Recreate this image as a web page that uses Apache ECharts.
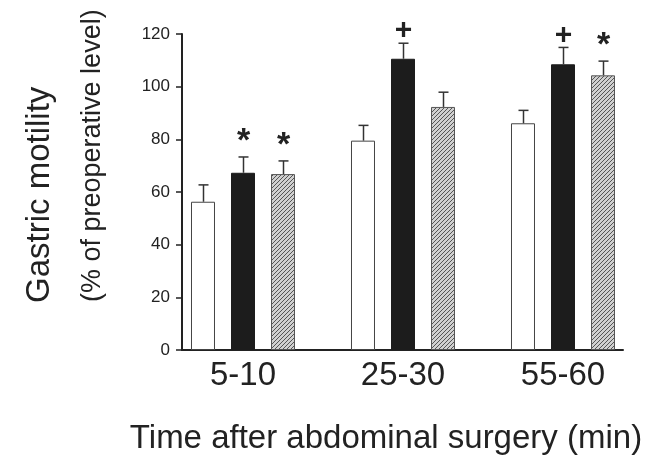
<!DOCTYPE html>
<html><head><meta charset="utf-8">
<script src="https://cdn.jsdelivr.net/npm/echarts@6/dist/echarts.min.js"></script>
<style>html,body{margin:0;padding:0;background:#fff}#c{width:651px;height:458px}</style>
</head><body><div id="c"></div>
<script>
// ---- data ----
const categories = ['5-10', '25-30', '55-60'];
const controlValues = [56.3, 79.5, 86.1];
const controlErrors = [6.4, 5.8, 4.9];
const blackValues = [67.3, 110.6, 108.5];
const blackErrors = [6.0, 5.9, 6.4];
const hatchedValues = [66.8, 92.3, 104.3];
const hatchedErrors = [5.0, 5.6, 5.4];
const controlMarks = ['', '', ''];
const blackMarks = ['*', '+', '+'];
const hatchedMarks = ['*', '', '*'];
const yMin = 0, yMax = 120, yStep = 20;
const xTitle = 'Time after abdominal surgery (min)';
const yTitle1 = 'Gastric motility';
const yTitle2 = '(% of preoperative level)';

// ---- styles ----
const FONT = '"Liberation Sans", Arial, Helvetica, sans-serif';
const INK = '#222222';
const MARK_STYLE = {'*': {size: 34, dy: 2}, '+': {size: 30, dy: 3}};

const pc = document.createElement('canvas');
pc.width = 4; pc.height = 4;
const ctx = pc.getContext('2d');
ctx.fillStyle = '#d0d0d0'; ctx.fillRect(0, 0, 4, 4);
ctx.strokeStyle = '#555555'; ctx.lineWidth = 1;
ctx.beginPath();
ctx.moveTo(0, 4); ctx.lineTo(4, 0);
ctx.moveTo(-1, 1); ctx.lineTo(1, -1);
ctx.moveTo(3, 5); ctx.lineTo(5, 3);
ctx.stroke();

const chart = echarts.init(document.getElementById('c'), null, {renderer: 'canvas'});

function barSeries(values, color, border) {
  return {
    type: 'bar', xAxisIndex: 0, yAxisIndex: 0,
    data: values, barWidth: 24, barGap: '66.67%',
    itemStyle: {color: color, borderColor: border, borderWidth: 1},
    silent: true, z: 3
  };
}
function errSeries(values, errors, marks, offset) {
  return {
    type: 'custom', xAxisIndex: 0, yAxisIndex: 0, z: 5, silent: true,
    data: values.map((v, i) => [i, v, v + errors[i]]),
    renderItem: function (params, api) {
      const i = api.value(0);
      const base = api.coord([i, api.value(1)]);
      const top = api.coord([i, api.value(2)]);
      const x = Math.round(base[0] + offset) + 0.5;
      const children = [
        {type: 'line', shape: {x1: x, y1: base[1], x2: x, y2: top[1]}, style: {stroke: '#333', lineWidth: 1.5}},
        {type: 'line', shape: {x1: x - 5, y1: top[1], x2: x + 5, y2: top[1]}, style: {stroke: '#333', lineWidth: 1.5}}
      ];
      const m = marks[params.dataIndex];
      if (m) {
        const ms = MARK_STYLE[m];
        children.push({type: 'text', x: x, y: top[1] + ms.dy,
          style: {text: m, font: 'bold ' + ms.size + 'px ' + FONT, fill: INK, textAlign: 'center', textVerticalAlign: 'bottom'}});
      }
      return {type: 'group', children: children};
    }
  };
}

chart.setOption({
  animation: false,
  backgroundColor: '#fff',
  grid: [
    {left: 163, width: 480, top: 34, bottom: 108},
    {left: 182, right: 28, top: 34, bottom: 108}
  ],
  xAxis: [
    {type: 'category', gridIndex: 0, data: categories,
     axisLine: {show: false}, axisTick: {show: false},
     axisLabel: {fontSize: 33, color: INK, fontFamily: FONT, margin: 9}},
    {type: 'category', gridIndex: 1, data: categories,
     axisLine: {show: true, lineStyle: {color: INK, width: 2}},
     axisTick: {show: false}, axisLabel: {show: false}}
  ],
  yAxis: [
    {type: 'value', gridIndex: 0, min: yMin, max: yMax, interval: yStep, show: false},
    {type: 'value', gridIndex: 1, min: yMin, max: yMax, interval: yStep,
     axisLine: {show: true, lineStyle: {color: INK, width: 2}},
     axisTick: {show: true, inside: false, length: 6, lineStyle: {color: INK, width: 1.5}},
     axisLabel: {fontSize: 17, color: INK, fontFamily: FONT, margin: 12},
     splitLine: {show: false}}
  ],
  series: [
    barSeries(controlValues, '#ffffff', '#444'),
    barSeries(blackValues, '#1c1c1c', '#1c1c1c'),
    barSeries(hatchedValues, {image: pc, repeat: 'repeat'}, '#555'),
    errSeries(controlValues, controlErrors, controlMarks, -40),
    errSeries(blackValues, blackErrors, blackMarks, 0),
    errSeries(hatchedValues, hatchedErrors, hatchedMarks, 40)
  ],
  graphic: [
    {type: 'text', x: 386, y: 439, style: {text: xTitle, font: '33px ' + FONT, fill: INK, textAlign: 'center', textVerticalAlign: 'middle'}},
    {type: 'text', x: 40, y: 303, rotation: Math.PI / 2, style: {text: yTitle1, font: '33px ' + FONT, fill: INK, textAlign: 'left', textVerticalAlign: 'middle'}},
    {type: 'text', x: 93, y: 302, rotation: Math.PI / 2, style: {text: yTitle2, font: '27px ' + FONT, fill: INK, textAlign: 'left', textVerticalAlign: 'middle'}}
  ]
});
</script></body></html>
